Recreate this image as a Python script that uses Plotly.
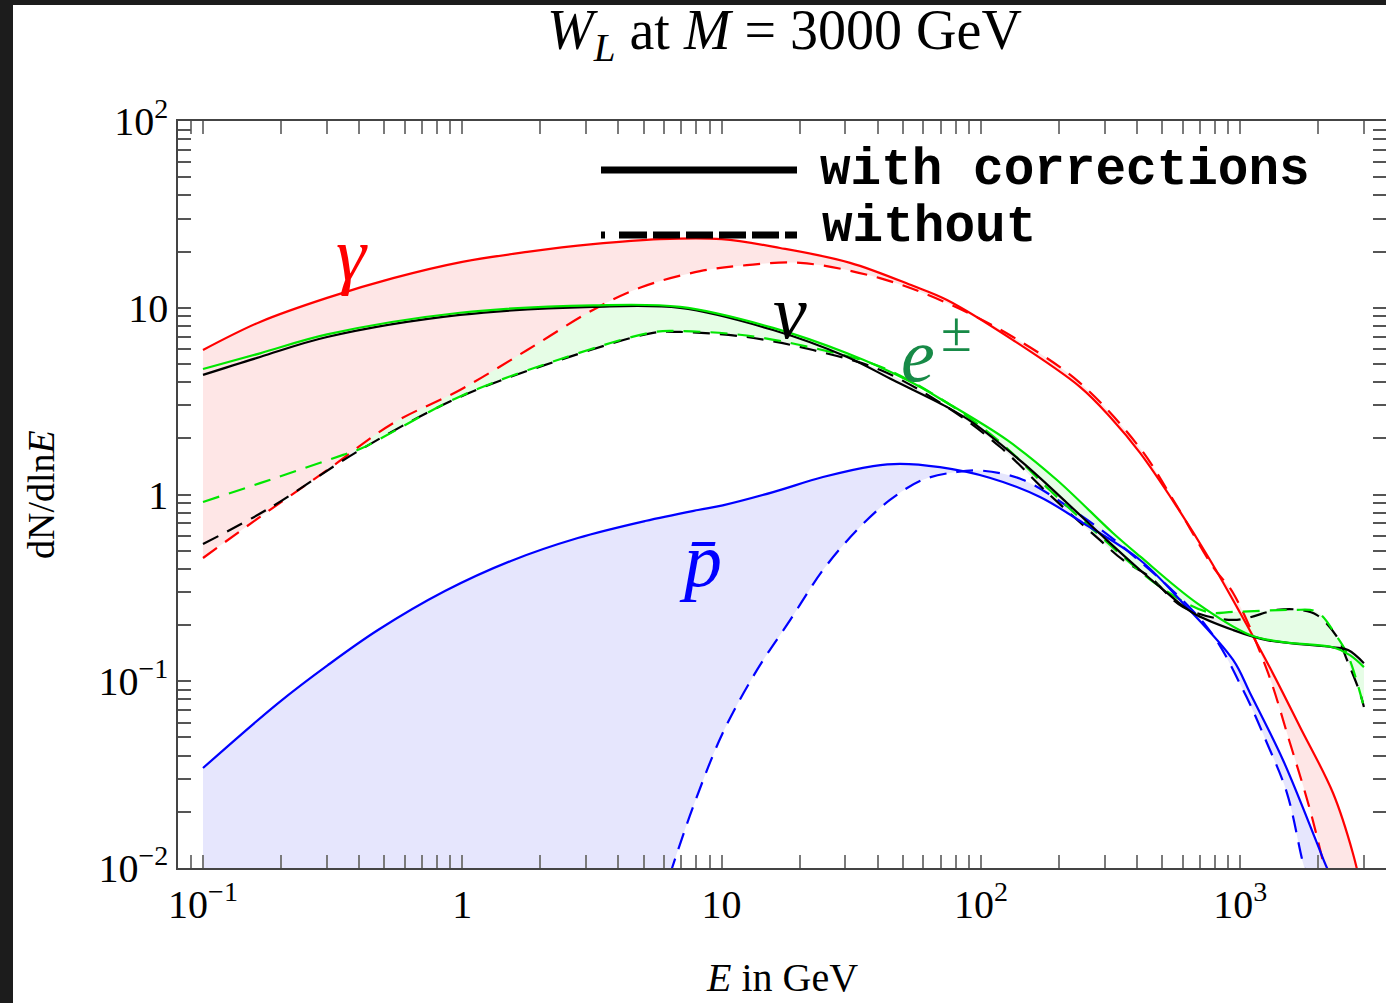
import plotly.graph_objects as go

# ---- spectra dN/dlnE versus E [GeV] for W_L annihilation at M = 3000 GeV ----
# photons
gamma_with_E = [0.1, 0.166, 0.301, 0.541, 1.0, 1.78, 3.19, 5.78, 10, 16.8, 31.3, 54.7, 74, 133,
                241, 315, 411, 561, 765, 1000, 1303, 1701, 2280, 2720, 3000]
gamma_with = [5.94, 8.4, 11.3, 14.4, 17.6, 19.9, 21.9, 23.3, 23.3, 20.9, 17.4, 13.1, 11.0, 6.71,
              3.77, 2.60, 1.67, 0.889, 0.446, 0.232, 0.118, 0.0569, 0.0252, 0.0120, 0.0067]
gamma_without_E = [0.1, 0.166, 0.301, 0.541, 0.98, 1.78, 3.19, 4.84, 8.26, 12.5, 20.1, 40.8, 74,
                   133, 241, 411, 561, 786, 939, 1268, 1556, 1859, 2124, 2427]
gamma_without = [0.457, 0.759, 1.35, 2.41, 3.63, 5.94, 9.73, 12.8, 15.7, 16.9, 17.4, 14.4, 10.6,
                 6.97, 3.96, 1.77, 0.90, 0.409, 0.297, 0.115, 0.0467, 0.0205, 0.0098, 0.0047]

# neutrinos
nu_with_E = [0.1, 0.166, 0.301, 0.98, 3.19, 6.92, 15.8, 30.5, 45.8, 74, 93.3, 145, 215, 306,
             411, 522, 658, 939, 1268, 2280, 2606, 3000]
nu_with = [4.37, 5.45, 6.97, 9.15, 10.1, 9.97, 7.6, 5.45, 4.10, 2.94, 2.42, 1.48, 0.90, 0.570,
           0.394, 0.297, 0.232, 0.188, 0.166, 0.152, 0.147, 0.125]
nu_without_E = [0.1, 0.181, 0.403, 0.98, 2.38, 5.44, 6.92, 12.5, 22.5, 40.8, 74, 119, 185, 288,
                353, 449, 602, 939, 1386, 1701, 1978, 2362, 2582, 2897, 3000]
nu_without = [0.543, 0.847, 1.73, 3.33, 5.25, 7.33, 7.42, 6.97, 5.94, 4.65, 2.94, 1.79, 0.99,
              0.57, 0.446, 0.361, 0.250, 0.213, 0.241, 0.241, 0.226, 0.173, 0.130, 0.0865, 0.0728]

# positrons / electrons
e_with_E = [0.1, 0.166, 0.301, 0.98, 3.19, 6.92, 15.8, 30.5, 51.9, 74, 126, 196, 323, 411,
            681, 1091, 1462, 2280, 2650, 3000]
e_with = [4.70, 5.7, 7.2, 9.4, 10.3, 10.1, 7.8, 5.7, 4.10, 3.1, 1.96, 1.20, 0.622, 0.466,
          0.262, 0.177, 0.162, 0.152, 0.138, 0.119]
e_without_E = [0.1, 0.166, 0.347, 0.403, 0.98, 2.38, 5.44, 6.92, 12.5, 22.5, 40.8, 74, 119, 185,
               288, 491, 745, 939, 1599, 1978, 2362, 2606, 3000]
e_without = [0.912, 1.15, 1.63, 1.75, 3.35, 5.3, 7.4, 7.5, 7.1, 6.1, 4.85, 3.1, 1.9, 1.05,
             0.60, 0.320, 0.235, 0.235, 0.241, 0.235, 0.173, 0.137, 0.073]

# antiprotons
pbar_with_E = [0.1, 0.195, 0.303, 0.473, 0.857, 1.54, 2.79, 5.07, 8.11, 10.1, 15.8, 24.6, 38.4,
               48.8, 69.5, 108, 169, 248, 411, 602, 939, 1091, 1462, 1978, 2162, 2427]
pbar_with = [0.0343, 0.0764, 0.122, 0.188, 0.304, 0.441, 0.585, 0.721, 0.826, 0.875, 1.03, 1.24,
             1.42, 1.46, 1.40, 1.23, 0.97, 0.703, 0.446, 0.262, 0.130, 0.0865, 0.0379, 0.0136,
             0.0100, 0.0075]
pbar_without_E = [0.1, 1.0, 3.0, 4.0, 4.84, 5.78, 6.44, 7.76, 10.1, 13.7, 18.4, 24.6, 33.3, 44.6,
                  59.8, 80.9, 102, 145, 226, 353, 745, 1026, 1268, 1515, 1748, 1859]
pbar_without = [2e-6, 2e-5, 3e-4, 1.1e-3, 2.6e-3, 6.3e-3, 0.0100, 0.0212, 0.0528, 0.115, 0.213,
                0.394, 0.646, 0.935, 1.20, 1.32, 1.34, 1.20, 0.826, 0.524, 0.195, 0.0897,
                0.0467, 0.0252, 0.0106, 0.008]

# axis ticks
x_major = [0.1, 1, 10, 100, 1000]
x_major_text = ["10<sup>\u22121</sup>", "1", "10", "10<sup>2</sup>", "10<sup>3</sup>"]
y_major = [0.01, 0.1, 1, 10, 100]
y_major_text = ["10<sup>\u22122</sup>", "10<sup>\u22121</sup>", "1", "10", "10<sup>2</sup>"]
x_minor = [0.09] + [m * d for d in (0.1, 1, 10, 100) for m in range(2, 10)] + [2000, 3000]
y_minor = [m * d for d in (0.01, 0.1, 1, 10) for m in range(2, 10)]

RED, GREEN, BLUE, BLACK = "#ff0000", "#00e600", "#0000ff", "#000000"
SERIF = "Liberation Serif, Times New Roman, Times, serif"
TYPEWRITER = "Liberation Mono, Courier New, monospace"

fig = go.Figure()

LINE_SHAPE = dict(shape="spline", smoothing=1.0)


def band(E_lo, y_lo, E_hi, y_hi, color):
    fig.add_trace(go.Scatter(x=E_lo, y=y_lo, mode="lines", line=dict(width=0, **LINE_SHAPE),
                             hoverinfo="skip", showlegend=False))
    fig.add_trace(go.Scatter(x=E_hi, y=y_hi, mode="lines", line=dict(width=0, **LINE_SHAPE),
                             fill="tonexty", fillcolor=color, hoverinfo="skip",
                             showlegend=False))


def curve(E, y, color, dashed):
    fig.add_trace(go.Scatter(
        x=E, y=y, mode="lines", hoverinfo="skip", showlegend=False,
        line=dict(color=color, width=2.2, dash="17px,10px" if dashed else "solid",
                  **LINE_SHAPE)))


# shaded bands between the curves with and without corrections
band(nu_without_E, nu_without, nu_with_E, nu_with, "rgb(238,238,238)")
band(e_without_E, e_without, e_with_E, e_with, "rgb(230,253,230)")
band(pbar_without_E, pbar_without, pbar_with_E, pbar_with, "rgb(230,230,253)")
band(gamma_without_E, gamma_without, gamma_with_E, gamma_with, "rgb(254,230,230)")

# dashed: without corrections
curve(gamma_without_E, gamma_without, RED, True)
curve(pbar_without_E, pbar_without, BLUE, True)
curve(nu_without_E, nu_without, BLACK, True)
curve(e_without_E, e_without, GREEN, True)
# solid: with corrections
curve(gamma_with_E, gamma_with, RED, False)
curve(pbar_with_E, pbar_with, BLUE, False)
curve(nu_with_E, nu_with, BLACK, False)
curve(e_with_E, e_with, GREEN, False)

# empty trace tying the right-hand tick axis into the plot
fig.add_trace(go.Scatter(x=[], y=[], yaxis="y2", showlegend=False, hoverinfo="skip"))

L, T, PW, PH = 178, 121, 1208, 747


def px(xp):
    return (xp - L) / PW


def py(yp):
    return (T + PH - yp) / PH


annotations = [
    dict(x=px(784), y=py(34), text="<i>W</i><sub><i>L</i></sub> at <i>M</i> = 3000 GeV",
         font=dict(family=SERIF, size=56, color="black")),
    dict(x=px(782), y=py(977), text="<i>E</i> in GeV",
         font=dict(family=SERIF, size=40, color="black")),
    dict(x=px(41), y=py(495), text="dN/dln<i>E</i>", textangle=-90,
         font=dict(family=SERIF, size=38, color="black")),
    dict(x=px(352), y=py(254), text="<i>\u03b3</i>", font=dict(family=SERIF, size=76, color=RED)),
    dict(x=px(790), y=py(312), text="<i>\u03bd</i>", font=dict(family=SERIF, size=76, color=BLACK)),
    dict(x=px(918), y=py(355), text="<i>e</i>", font=dict(family=SERIF, size=76, color="#178a47")),
    dict(x=px(956), y=py(332), text="\u00b1", font=dict(family=SERIF, size=56, color="#178a47")),
    dict(x=px(700), y=py(560), text="<i>p\u0304</i>", font=dict(family=SERIF, size=76, color=BLUE)),
    dict(x=px(818), y=py(170), text="<b>with corrections</b>", xanchor="left",
         font=dict(family=TYPEWRITER, size=51, color="black")),
    dict(x=px(820), y=py(227), text="<b>without</b>", xanchor="left",
         font=dict(family=TYPEWRITER, size=51, color="black")),
]
for a in annotations:
    a.setdefault("xref", "paper")
    a.setdefault("yref", "paper")
    a.setdefault("showarrow", False)
    a.setdefault("xanchor", "center")
    a.setdefault("yanchor", "middle")

shapes = [
    # legend line samples
    dict(type="line", xref="paper", yref="paper", x0=px(601), x1=px(797), y0=py(170), y1=py(170),
         line=dict(color="black", width=7)),
    dict(type="line", xref="paper", yref="paper", x0=px(601), x1=px(797), y0=py(235), y1=py(235),
         line=dict(color="black", width=7,
                   dash="4px,14px,28px,6px,27px,6px,27px,6px,27px,6px,27px,6px,27px,6px")),
    # dark surround at the left and top edges
    dict(type="rect", xref="paper", yref="paper", x0=px(-2), x1=px(13), y0=py(1010), y1=py(-2),
         line=dict(width=0), fillcolor="#1c1c1c", layer="above"),
    dict(type="rect", xref="paper", yref="paper", x0=px(-2), x1=px(1390), y0=py(5), y1=py(-2),
         line=dict(width=0), fillcolor="#1c1c1c", layer="above"),
]

tick_style = dict(ticks="inside", ticklen=13, tickwidth=1.5, showgrid=False, zeroline=False,
                  automargin=False)

fig.update_layout(
    width=1386, height=1003,
    margin=dict(l=L, r=0, t=T, b=1003 - T - PH, pad=0),
    paper_bgcolor="white", plot_bgcolor="white",
    showlegend=False,
    annotations=annotations, shapes=shapes,
    xaxis=dict(
        type="log", range=[-1.0964, 3.5623], showline=True, linecolor="#444444", linewidth=1.5,
        mirror="ticks", tickcolor="#7a7a7a", tickmode="array", tickvals=x_major,
        ticktext=x_major_text, tickfont=dict(family=SERIF, size=40, color="black"),
        minor=dict(ticks="inside", ticklen=13, tickwidth=1.5, tickcolor="#7a7a7a",
                   tickmode="array", tickvals=x_minor, showgrid=False),
        **tick_style),
    yaxis=dict(
        type="log", range=[-2, 2], showline=True, linecolor="#444444", linewidth=1.5,
        mirror=False, tickcolor="#555555", tickmode="array", tickvals=y_major,
        ticktext=y_major_text, tickfont=dict(family=SERIF, size=40, color="black"),
        minor=dict(ticks="inside", ticklen=13, tickwidth=1.5, tickcolor="#555555",
                   tickmode="array", tickvals=y_minor, showgrid=False),
        **tick_style),
    # right-hand frame: ticks only, its line falls outside the page
    yaxis2=dict(
        type="log", range=[-2, 2], overlaying="y", side="right", showline=False,
        showticklabels=False, tickcolor="#555555", tickmode="array", tickvals=y_major,
        minor=dict(ticks="inside", ticklen=13, tickwidth=1.5, tickcolor="#555555",
                   tickmode="array", tickvals=y_minor, showgrid=False),
        **tick_style),
)

fig.write_html("out.html")
